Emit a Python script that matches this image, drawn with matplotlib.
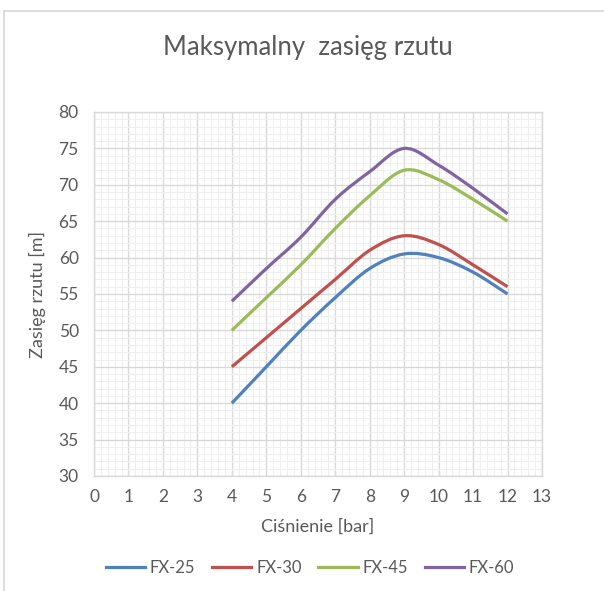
import matplotlib
matplotlib.use('Agg')
import matplotlib.pyplot as plt
import numpy as np
from matplotlib.path import Path
from matplotlib.patches import PathPatch, Rectangle
from matplotlib.lines import Line2D

# data
pressure = [4, 5, 6, 7, 8, 9, 10, 11, 12]
fx25 = [40, 45, 50, 54.5, 58.5, 60.5, 60, 58, 55]
fx30 = [45, 49, 53, 57, 61, 63, 61.8, 59, 56]
fx45 = [50, 54.5, 59, 64, 68.5, 72, 70.7, 68, 65]
fx60 = [54, 58.5, 62.8, 68, 71.8, 75, 72.7, 69.5, 66]
labels = ['FX-25', 'FX-30', 'FX-45', 'FX-60']
colors = ['#4F81BD', '#C0504D', '#9BBB59', '#8064A2']

x_ticks = list(range(0, 14))
y_ticks = list(range(30, 81, 5))

TXT = '#595959'
GRID = '#d9d9d9'
plt.rcParams['font.family'] = ['Lato', 'DejaVu Sans']


def smooth_path(xs, ys):
    # excel-like smoothed line: bezier segments, catmull-rom control points
    pts = np.column_stack([xs, ys]).astype(float)
    n = len(pts)
    verts = [pts[0]]
    codes = [Path.MOVETO]
    for i in range(n - 1):
        p0 = pts[i - 1] if i > 0 else pts[i]
        p1 = pts[i]
        p2 = pts[i + 1]
        p3 = pts[i + 2] if i + 2 < n else pts[i + 1]
        c1 = p1 + (p2 - p0) / 6.0
        c2 = p2 - (p3 - p1) / 6.0
        verts += [c1, c2, p2]
        codes += [Path.CURVE4] * 3
    return Path(verts, codes)


fig = plt.figure(figsize=(6.04, 5.91), dpi=100)
ax = fig.add_axes([94 / 604, 1 - 476 / 591, 448 / 604, 364 / 591])

# chart border (runs off the right/bottom of the image)
fig.patches.append(Rectangle((4 / 604, -0.05), 1.2, 1 - 11 / 591 + 0.05,
                             transform=fig.transFigure, fill=False,
                             edgecolor=GRID, lw=1.3))

ax.set_xlim(0, 13)
ax.set_ylim(30, 80)
ax.set_xticks(x_ticks)
ax.set_yticks(y_ticks)
ax.set_xticks(np.arange(0, 13.01, 0.2), minor=True)
ax.set_yticks(np.arange(30, 80.01, 1), minor=True)
ax.grid(which='minor', color='#efefef', lw=0.8)
ax.grid(which='major', color=GRID, lw=1.0)
ax.set_axisbelow(True)
for s in ax.spines.values():
    s.set_color(GRID)
    s.set_linewidth(1.0)
ax.tick_params(which='both', length=0, colors=TXT, labelsize=12.5)
ax.tick_params(axis='y', pad=11)
ax.tick_params(axis='x', pad=9)

series = [fx25, fx30, fx45, fx60]
handles = []
for ys, c, lab in zip(series, colors, labels):
    ax.add_patch(PathPatch(smooth_path(pressure, ys), fill=False, edgecolor=c,
                           lw=2.3, capstyle='butt', joinstyle='round', zorder=3))
    handles.append(Line2D([], [], color=c, lw=2.3, label=lab))

ax.set_xlabel('Ciśnienie [bar]', color=TXT, fontsize=13, labelpad=10)
ax.set_ylabel('Zasięg rzutu [m]', color=TXT, fontsize=13, labelpad=9)

fig.text(308 / 604, 1 - 47 / 591, 'Maksymalny  zasięg rzutu', ha='center',
         va='center', color=TXT, fontsize=18.5)

fig.legend(handles=handles, loc='center', bbox_to_anchor=(310 / 604, 1 - 568 / 591),
           ncol=4, frameon=False, fontsize=12, labelcolor=TXT,
           handlelength=2.35, handletextpad=0.3, columnspacing=1.0)

fig.savefig('out.png', dpi=100)
